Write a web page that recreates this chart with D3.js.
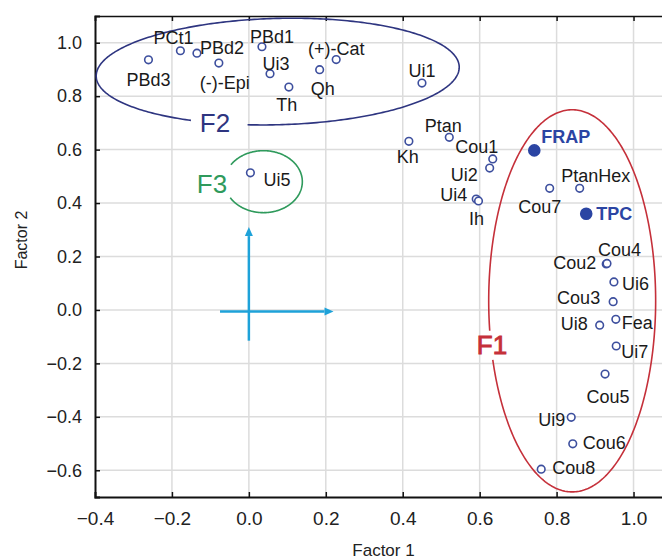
<!DOCTYPE html>
<html>
<head>
<meta charset="utf-8">
<script src="https://cdn.jsdelivr.net/npm/d3@7"></script>
<style>
  body { margin: 0; background: #fff; }
  svg { display: block; font-family: "Liberation Sans", Arial, sans-serif; }
</style>
</head>
<body>
<svg id="chart" width="662" height="560"></svg>
<script>
// Factor loadings
const names   = ['PBd3', 'PCt1', 'PBd2', '(-)-Epi', 'PBd1', 'Ui3', 'Th', 'Qh', '(+)-Cat', 'Ui1',
                 'Kh', 'Ptan', 'Cou1', 'Ui2', 'Ui4', 'Ih', 'Ui5',
                 'FRAP', 'Cou7', 'PtanHex', 'TPC', 'Cou2', 'Cou4', 'Ui6', 'Cou3', 'Ui8', 'Fea', 'Ui7',
                 'Cou5', 'Ui9', 'Cou6', 'Cou8'];
const factor1 = [-0.261, -0.178, -0.135, -0.078, 0.034, 0.055, 0.104, 0.184, 0.227, 0.450,
                 0.416, 0.521, 0.634, 0.626, 0.591, 0.597, 0.004,
                 0.742, 0.782, 0.860, 0.877, 0.929, 0.931, 0.949, 0.947, 0.912, 0.954, 0.955,
                 0.926, 0.838, 0.842, 0.760];
const factor2 = [0.936, 0.970, 0.961, 0.924, 0.985, 0.884, 0.834, 0.899, 0.937, 0.849,
                 0.631, 0.646, 0.565, 0.531, 0.415, 0.408, 0.513,
                 0.597, 0.455, 0.455, 0.360, 0.172, 0.174, 0.105, 0.031, -0.057, -0.035, -0.135,
                 -0.240, -0.402, -0.501, -0.596];
const highlighted = ['FRAP', 'TPC'];

const xTicks = [-0.4, -0.2, 0.0, 0.2, 0.4, 0.6, 0.8, 1.0];
const yTicks = [-0.6, -0.4, -0.2, 0.0, 0.2, 0.4, 0.6, 0.8, 1.0];

// Cluster ellipses (centre / radii in factor units)
const clusters = [
  { name: 'F2', cx: 0.075, cy: 0.892, rx: 0.472, ry: 0.199, rot: -1.5, gap: [100, 119], color: '#2e3580', thick: 0 },
  { name: 'F3', cx: 0.038, cy: 0.480, rx: 0.101, ry: 0.116, rot: 0, gap: [149, 213], color: '#2f9a5c', thick: 0 },
  { name: 'F1', cx: 0.8405, cy: 0.034, rx: 0.217, ry: 0.715, rot: 0, gap: [162, 171], color: '#c5303a', thick: 0.9 }
];
// Label placement for the cluster names
const clusterLabel = { F2: [215, 132], F3: [212, 193], F1: [492, 354] };

// Label placement: [anchor, dx, dy]
const labelPos = {
  'PBd3': ['middle', 0, 26], 'PCt1': ['middle', -7, -7], 'PBd2': ['start', 3, 1],
  '(-)-Epi': ['middle', 6, 26], 'PBd1': ['middle', 10, -4], 'Ui3': ['middle', 6, -4],
  'Th': ['middle', -2, 24], 'Qh': ['middle', 3, 25], '(+)-Cat': ['middle', 0, -5],
  'Ui1': ['middle', 0, -6], 'Kh': ['middle', -1, 22], 'Ptan': ['middle', -6, -5],
  'Cou1': ['middle', -16, -6], 'Ui2': ['end', -12, 13], 'Ui4': ['end', -9, 2],
  'Ih': ['middle', -2, 24], 'Ui5': ['start', 13, 13], 'FRAP': ['start', 7, -7],
  'Cou7': ['middle', -10, 25], 'PtanHex': ['middle', 16, -6], 'TPC': ['start', 10, 6],
  'Cou2': ['end', -10, 5], 'Cou4': ['start', -9, -7], 'Ui6': ['start', 8, 8],
  'Cou3': ['end', -13, 2], 'Ui8': ['end', -12, 5], 'Fea': ['start', 6, 10],
  'Ui7': ['start', 5, 12], 'Cou5': ['middle', 3, 29], 'Ui9': ['end', -6, 9],
  'Cou6': ['start', 10, 5], 'Cou8': ['start', 11, 5]
};

// Axis arrows in factor units
const arrows = [
  { from: [0, -0.115], to: [0, 0.31] },
  { from: [-0.075, -0.006], to: [0.22, -0.006] }
];

const svg = d3.select('#chart');
const margin = { left: 95, top: 16, right: 672, bottom: 497 };

const x = d3.scaleLinear().domain([-0.4, 1.1]).range([margin.left, margin.right]);
const y = d3.scaleLinear().domain([-0.7, 1.1]).range([margin.bottom, margin.top]);

svg.append('rect').attr('width', 662).attr('height', 560).attr('fill', '#fff');

// grid
svg.append('g').selectAll('line').data(xTicks.slice(1)).enter().append('line')
  .attr('x1', d => x(d)).attr('x2', d => x(d))
  .attr('y1', margin.top).attr('y2', margin.bottom)
  .attr('stroke', '#dcdcdc').attr('stroke-width', 1.5);
svg.append('g').selectAll('line').data(yTicks).enter().append('line')
  .attr('x1', margin.left).attr('x2', margin.right)
  .attr('y1', d => y(d)).attr('y2', d => y(d))
  .attr('stroke', '#dcdcdc').attr('stroke-width', 1.5);

// axes
const xAxis = svg.append('g').attr('transform', `translate(0,${margin.bottom})`)
  .call(d3.axisBottom(x).tickValues(xTicks).tickSize(-5).tickPadding(15).tickFormat(d3.format('.1f')));
const xTop = svg.append('g').attr('transform', `translate(0,${margin.top})`)
  .call(d3.axisTop(x).tickValues(xTicks).tickSize(-5).tickFormat(''));
const yAxis = svg.append('g').attr('transform', `translate(${margin.left},0)`)
  .call(d3.axisLeft(y).tickValues(yTicks).tickSize(-5).tickPadding(13).tickFormat(d3.format('.1f')));

[xAxis, xTop, yAxis].forEach(g => {
  g.select('.domain').attr('stroke', '#111').attr('stroke-width', 2);
  g.selectAll('.tick line').attr('stroke', '#111').attr('stroke-width', 1.5);
  g.selectAll('.tick text').attr('fill', '#222').attr('font-family', '"Liberation Sans", Arial, sans-serif');
});
xTop.select('.domain').attr('stroke-width', 1.5);
xAxis.selectAll('.tick text').attr('font-size', 19);
yAxis.selectAll('.tick text').attr('font-size', 18);
xAxis.selectAll('.tick').filter(d => d === -0.4).select('line').remove();

svg.append('text').attr('x', (margin.left + margin.right) / 2).attr('y', 556)
  .attr('text-anchor', 'middle').attr('font-size', 17).attr('fill', '#222').text('Factor 1');
svg.append('text').attr('transform', `translate(27,${240}) rotate(-90)`)
  .attr('text-anchor', 'middle').attr('font-size', 16).attr('fill', '#222').text('Factor 2');

// cluster ellipses with a gap for the label
const ellipseLine = d3.line();
clusters.forEach(c => {
  const px = x(c.cx), py = y(c.cy);
  const rxp = x(c.cx + c.rx) - px, ryp = py - y(c.cy + c.ry);
  const pts = d3.range(c.gap[1], c.gap[0] + 360.5, 1).map(t => {
    const a = t * Math.PI / 180;
    return [px + rxp * Math.cos(a), py + ryp * Math.sin(a)];
  });
  svg.append('path').attr('d', ellipseLine(pts))
    .attr('transform', `rotate(${c.rot},${px},${py})`)
    .attr('fill', 'none').attr('stroke', c.color).attr('stroke-width', 1.6);
  svg.append('text').attr('x', clusterLabel[c.name][0]).attr('y', clusterLabel[c.name][1])
    .attr('text-anchor', 'middle').attr('font-size', 26)
    .attr('fill', c.color).attr('stroke', c.color).attr('stroke-width', c.thick)
    .text(c.name);
});

// arrows
const arrowColor = '#1ea2d9';
arrows.forEach(a => {
  const x1 = x(a.from[0]), y1 = y(a.from[1]), x2 = x(a.to[0]), y2 = y(a.to[1]);
  const ang = Math.atan2(y2 - y1, x2 - x1);
  const L = 9, W = 4;
  const bx = x2 - L * Math.cos(ang), by = y2 - L * Math.sin(ang);
  svg.append('line').attr('x1', x1).attr('y1', y1).attr('x2', bx).attr('y2', by)
    .attr('stroke', arrowColor).attr('stroke-width', 2.5);
  svg.append('path')
    .attr('d', `M${x2},${y2}L${bx + W * Math.sin(ang)},${by - W * Math.cos(ang)}L${bx - W * Math.sin(ang)},${by + W * Math.cos(ang)}Z`)
    .attr('fill', arrowColor);
});

// points
const points = names.map((n, i) => ({ name: n, f1: factor1[i], f2: factor2[i], hi: highlighted.includes(n) }));

svg.append('g').selectAll('circle').data(points).enter().append('circle')
  .attr('cx', d => x(d.f1)).attr('cy', d => y(d.f2))
  .attr('r', d => d.hi ? 5.5 : 3.8)
  .attr('fill', d => d.hi ? '#2b45a3' : '#fff')
  .attr('stroke', d => d.hi ? '#2b45a3' : '#3d4f9e')
  .attr('stroke-width', 1.6);

svg.append('g').selectAll('text').data(points).enter().append('text')
  .attr('x', d => x(d.f1) + labelPos[d.name][1])
  .attr('y', d => y(d.f2) + labelPos[d.name][2])
  .attr('text-anchor', d => labelPos[d.name][0])
  .attr('font-size', 18)
  .attr('font-weight', d => d.hi ? 'bold' : 'normal')
  .attr('fill', d => d.hi ? '#2b45a3' : '#1a1a1a')
  .text(d => d.name);
</script>
</body>
</html>
